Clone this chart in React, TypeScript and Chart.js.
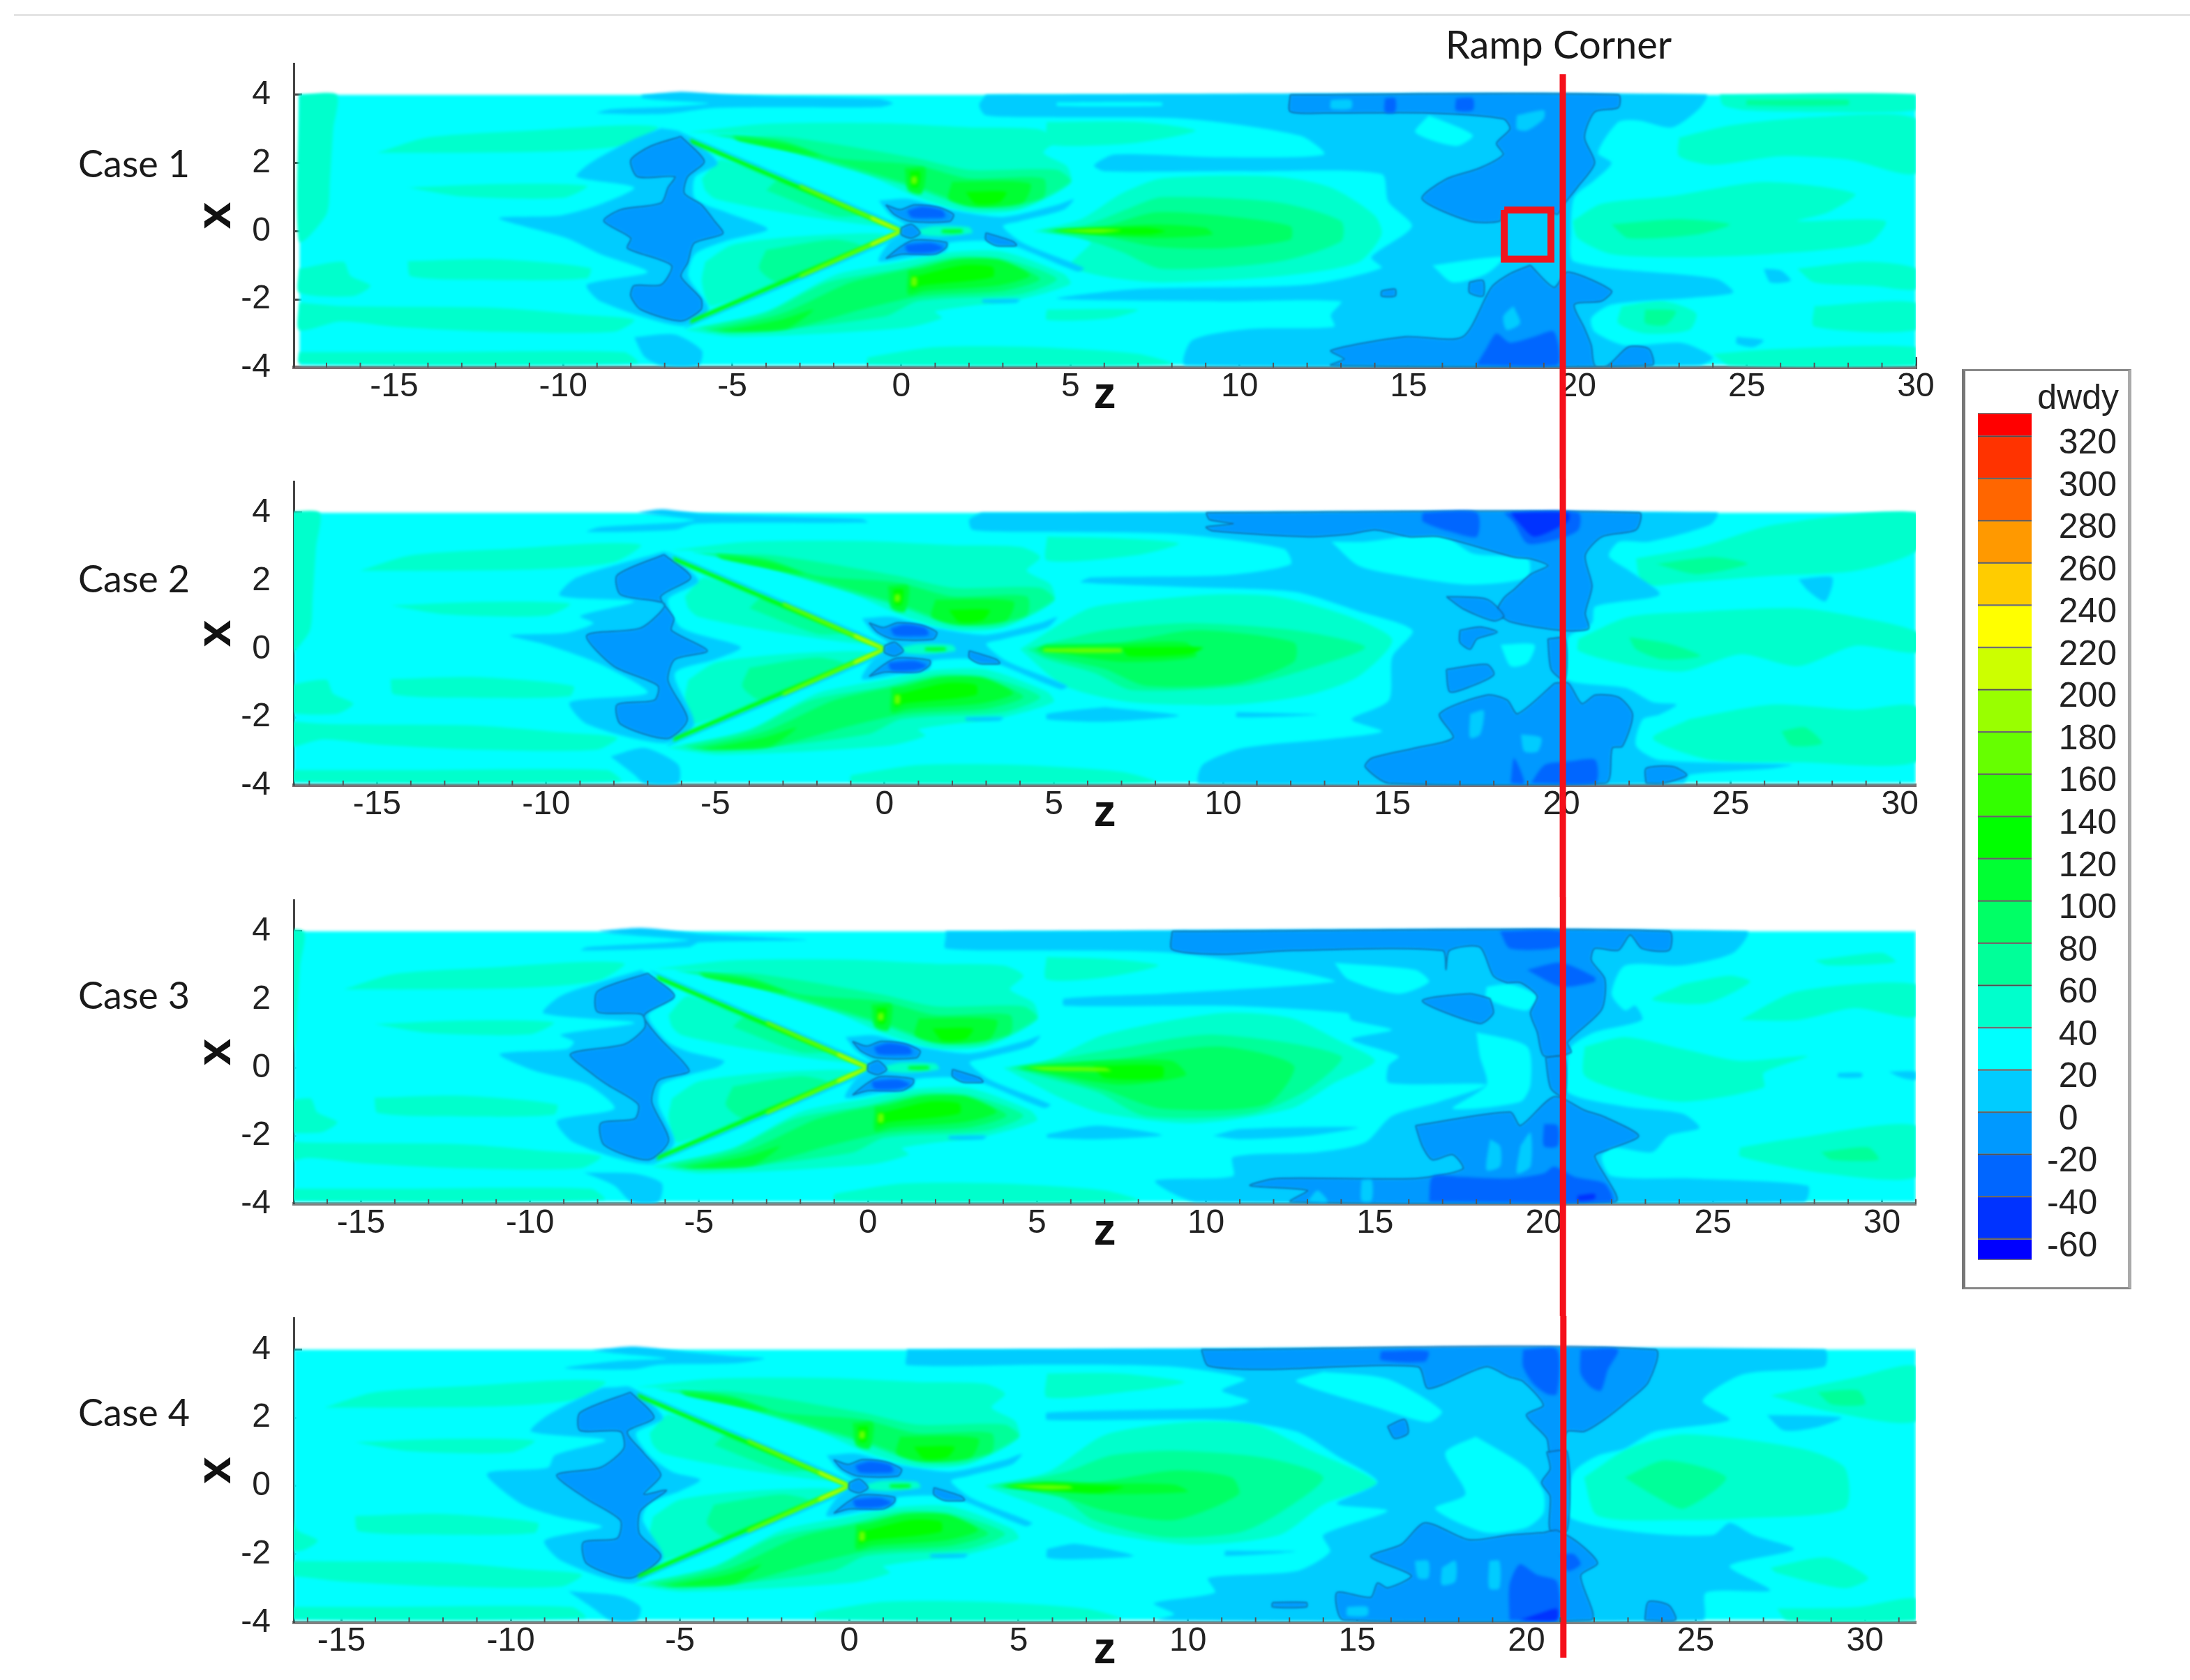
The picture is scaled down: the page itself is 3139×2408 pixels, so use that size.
import React, { useEffect, useRef } from 'react';
import { Chart, registerables } from 'chart.js';

Chart.register(...registerables);

// colour legend
const bandEdges = [-70, -60, -40, -20, 0, 20, 40, 60, 80, 100, 120, 140, 160, 180, 200, 220, 240, 260, 280, 300, 320, 331];
const bandColors = ['#0000ff', '#0033ff', '#0066ff', '#0099ff', '#00ccff', '#00ffff', '#00ffcc', '#00ff99', '#00ff66', '#00ff33', '#00ff00', '#33ff00', '#66ff00', '#99ff00', '#ccff00', '#ffff00', '#ffcc00', '#ff9900', '#ff6600', '#ff3300', '#ff0000'];
const legendTicks = [-60, -40, -20, 0, 20, 40, 60, 80, 100, 120, 140, 160, 180, 200, 220, 240, 260, 280, 300, 320];

const caseNames = ['Case 1', 'Case 2', 'Case 3', 'Case 4'];
const zMin = [-17.97, -17.46, -16.99, -16.41];
const zMax = [30, 30.47, 31, 31.5];
const fieldLeft = [-17.8, -17.46, -16.99, -16.41];
const rampZ = [19.56, 20.04, 20.56, 21.09];
const rampTop = [4.61, 5.01, 5.01, 5.01];
const rampBottom = [-7.3, -7.3, -7.3, -5.04];
const zTicks = [-15, -10, -5, 0, 5, 10, 15, 20, 25, 30];
const xTicks = [-4, -2, 0, 2, 4];
const probeBox = [17.83, 0.62, 19.21, 0.62, 19.21, -0.82, 17.83, -0.82, 17.83, 0.62];

// every row: lower band edge, then z,x pairs of a contour
type Row = number[];

const leftBands: Row[] = [
  [40, -17.8, 4, -16.7, 4, -16.8, 3, -16.9, 1.5, -17, 0.5, -17.8, -0.3],
  [40, -15.5, 2.3, -14, 2.75, -11, 2.95, -8.5, 3.1, -7.2, 3.05, -8, 2.55, -10, 2.35, -13, 2.3],
  [40, -14.6, 1.28, -12, 1.38, -9.3, 1.33, -10, 0.98, -13, 1.02],
  [40, -14.6, -0.88, -12, -0.82, -9.2, -1.08, -9.3, -1.38, -12, -1.43, -14.5, -1.33],
  [40, -17.8, -1.1, -16.5, -0.9, -16.3, -1.3, -15.7, -1.6, -16.2, -1.9, -17.8, -1.8],
  [40, -17.8, -2.1, -16.5, -2.2, -12, -2.25, -9.5, -2.45, -7.9, -2.6, -8.5, -2.95, -12, -2.95, -15, -2.8, -16.6, -2.65, -17.8, -2.9],
  [40, -17.8, -3.55, -14, -3.55, -8.2, -3.55, -7.8, -3.87, -17.8, -3.87],
  [40, -1, -3.7, 1, -3.4, 4, -3.4, 7, -3.6, 8, -3.9, -1, -3.9],
];

const wakeLobes: Row[] = [
  [40, -6.3, 2.9, -4, 3.15, -0.6, 3.17, 2, 3.05, 4, 3, 4.6, 2.7, 4.2, 2.3, 4.9, 1.9, 5, 1.4, 3.5, 0.63, 2, 0.56, 0.38, 1.04, -1.73, 2, -3.83, 2.75, -5.7, 2.89],
  [60, -5.7, 2.85, -3.3, 2.75, 0.38, 2.15, 2, 1.8, 4.6, 1.8, 5, 1.45, 3.5, 0.7, 2, 0.7, 0.4, 1.25, -1.7, 1.86, -3.8, 2.48],
  [80, -5, 2.8, -3.5, 2.65, -2, 2.15, 0.4, 1.95, 2, 1.55, 4.2, 1.55, 4.2, 1, 3, 0.75, 2, 0.78, 0.5, 1.3, -1.7, 1.95, -3.8, 2.5],
  [100, -5, 2.78, -3.4, 2.55, -2.4, 2.2, -3.6, 2.4, -4.8, 2.65],
  [100, 0.1, 1.85, 0.7, 1.85, 0.6, 1.1, 0.2, 1.2],
  [100, 1.5, 1.45, 3.8, 1.4, 3.6, 0.85, 2.2, 0.72, 1.4, 0.95],
  [120, 1.9, 1.15, 3.1, 1.15, 2.9, 0.85, 2.2, 0.8],
  [120, 0.25, 1.75, 0.55, 1.75, 0.5, 1.3, 0.3, 1.3],
  [160, 0.3, 1.6, 0.45, 1.6, 0.45, 1.4, 0.3, 1.4],
  [40, -6.4, -2.9, -4, -2.35, -2, -1.3, 0, -0.9, 1.4, -0.62, 3, -0.6, 4.8, -1.25, 5, -1.55, 3.5, -2, 1, -2.35, 1.2, -2.55, 0, -2.85, -4.9, -3.1],
  [60, -6, -2.85, -4, -2.4, -2.2, -1.5, 0, -1.1, 1.5, -0.75, 3, -0.8, 4.6, -1.4, 3.5, -1.85, 0.5, -2.05, -0.5, -2.5, -4.9, -3],
  [80, -5.8, -2.92, -3.5, -2.4, -1.5, -1.5, 0.3, -1.1, 1.7, -0.8, 3, -0.9, 4.1, -1.4, 3, -1.75, 0.6, -1.9, -1, -2.25, -3.5, -2.9],
  [100, -5.5, -2.95, -3.6, -2.6, -2.6, -2.3, -3.4, -2.85],
  [100, 0.2, -1.15, 0.6, -1.1, 1.6, -0.85, 2.9, -0.85, 3.8, -1.3, 2.8, -1.6, 0.7, -1.75, 0.2, -1.85],
  [120, 0.3, -1.3, 0.5, -1.3, 1.8, -1, 2.7, -1.05, 2.7, -1.35, 0.6, -1.6, 0.3, -1.7],
  [160, 0.3, -1.35, 0.45, -1.35, 0.45, -1.6, 0.3, -1.6],
  [40, -5.9, 1.55, -5.3, 2.1, -1, 0.4, -0.4, 0.15, -1.5, 0.25, -3.5, 0.55, -5.5, 0.95, -5.8, 1.2],
  [40, -5.8, -0.9, -5, -0.4, -3, -0.15, -0.5, -0.08, -1, -0.4, -5.6, -2.2, -5.9, -1.5],
  [60, -4, 1.2, -3.6, 1.5, -1.2, 0.5, -2, 0.45],
  [60, -4, -0.55, -2, -0.25, -1.2, -0.45, -3.6, -1.5, -4.2, -1.1],
];

const wingDetail: Row[] = [
  [0, -6.45, 2.86, 0.02, 0.16, 0.1, 0.06, -6.35, 2.76],
  [0, -6.45, -2.86, 0.02, -0.16, 0.1, -0.06, -6.35, -2.76],
  [120, -6.25, 2.72, -0.05, 0.07, 0, 0, -0.1, 0, -6.2, 2.58],
  [120, -6.25, -2.72, -0.05, -0.07, 0, 0, -0.1, 0, -6.2, -2.58],
  [160, -3, 1.38, -0.05, 0.06, -0.1, 0, -3, 1.28],
  [160, -3, -1.38, -0.05, -0.06, -0.1, 0, -3, -1.28],
  [200, -0.9, 0.44, -0.02, 0.04, -0.06, 0, -0.9, 0.36],
  [200, -0.9, -0.44, -0.02, -0.04, -0.06, 0, -0.9, -0.36],
  [0, -0.67, 0.9, 0.2, 0.95, 1.43, 0.63, 3, 0.42, 4.6, 0.77, 5.1, 0.94, 4.8, 0.63, 3.5, 0.29, 3, 0.15, 3.6, -0.35, 5.4, -1.08, 5.2, -1.18, 3, -0.33, 1.43, -0.33, 1.3, -0.6, 0.38, -0.74, -0.67, -0.88, -0.36, -0.33, 0.17, 0.08, -0.36, 0.5],
  [40, 0.5, 0.05, 1, 0.15, 2, 0.12, 2.1, -0.05, 1.2, -0.15, 0.6, -0.1],
  [100, 1.2, 0.05, 1.8, 0.05, 1.8, -0.05, 1.2, -0.05],
  [-20, -0.46, 0.77, -0.04, 0.63, 0.38, 0.77, 1.1, 0.7, 1.54, 0.49, 1.43, 0.29, 0.27, 0.29, -0.2, 0.49],
  [-40, 0.17, 0.6, 0.6, 0.72, 1.2, 0.62, 1.3, 0.42, 0.9, 0.38, 0.3, 0.4],
  [-20, -0.46, -0.8, -0.04, -0.47, 0.38, -0.26, 1.33, -0.33, 1.33, -0.47, 1, -0.67, 0, -0.67],
  [-40, 0.1, -0.4, 0.9, -0.35, 1.25, -0.5, 0.9, -0.62, 0.2, -0.62],
  [-20, 0, 0.1, 0.3, 0.2, 0.55, -0.05, 0.3, -0.2, 0, -0.1],
  [-20, 2.5, -0.05, 3.3, -0.3, 3.4, -0.42, 2.8, -0.42, 2.5, -0.25],
  [0, 2.4, -2, 3.5, -2, 3.4, -2.1, 2.4, -2.1],
];

const case1Contours: Row[] = [
  [40, 3.9, 0, 5.3, 0.35, 6.5, 1.1, 7.7, 1.55, 11.1, 1.6, 12.7, 1.28, 14, 0.46, 14.2, -0.1, 13.5, -0.92, 11.1, -1.33, 7.7, -1.5, 6, -1.33, 5, -1, 5.6, -0.3],
  [60, 4.1, 0.02, 5.5, 0.2, 6.8, 0.7, 7.7, 1, 11.1, 0.85, 13, 0.3, 13, -0.3, 11.1, -0.9, 7.7, -1.1, 6.5, -0.6, 5.3, -0.2],
  [80, 4.3, 0.02, 6, 0.15, 7.5, 0.55, 9.5, 0.45, 11.5, 0.15, 11.5, -0.25, 9.5, -0.5, 7.5, -0.45, 6, -0.15],
  [100, 4.4, 0.02, 6, 0.12, 7.5, 0.2, 9, 0.1, 9.2, -0.1, 7.5, -0.2, 6, -0.12],
  [120, 4.5, 0.02, 6, 0.08, 7.3, 0.1, 7.8, 0, 7.3, -0.1, 6, -0.08],
  [160, 4.6, 0.02, 5.8, 0.07, 6.5, 0.03, 5.8, -0.05],
  [40, 4.3, 3.2, 7, 3.2, 8.7, 2.95, 7, 2.6, 5, 2.5, 4.3, 2.6],
  [40, 4.3, -2.3, 7, -2.3, 6.2, -2.55, 4.3, -2.6],
  [40, 24.2, 4, 30, 4, 30, 3.55, 27, 3.5, 25, 3.55, 24.3, 3.7],
  [60, 25, 3.85, 28, 3.85, 28, 3.7, 25, 3.7],
  [40, 23, 2.75, 24.5, 3.1, 27, 3.35, 30, 3.3, 30, 1.7, 28, 2.1, 26, 2.2, 24, 1.95, 23, 2.2],
  [40, 19.85, 0.3, 20.7, 0.8, 22.8, 1.03, 25.5, 1.44, 28.2, 1.1, 27.4, 0.55, 26.5, 0.3, 29.1, 0.3, 28.6, -0.35, 25.7, -0.67, 23.1, -0.76, 21, -0.67, 20, -0.2],
  [60, 21, 0.2, 23, 0.35, 24.5, 0.2, 23.5, -0.1, 21.5, -0.2],
  [40, 26.5, -1.1, 28.5, -0.9, 30, -1.1, 30, -1.7, 28.7, -1.6, 27, -1.5],
  [40, 24, -3.6, 26, -3.45, 30, -3.4, 30, -3.93, 24.5, -3.93],
  [40, 21.3, -2.2, 22.5, -2.05, 23.5, -2.4, 23.3, -2.9, 22, -3, 21.2, -2.7],
  [60, 22, -2.3, 22.9, -2.35, 22.6, -2.75, 22, -2.7],
  [40, 27, -2.2, 30, -2.1, 30, -2.9, 27, -2.8],
  [0, 2.5, 4, 23.8, 4, 23.6, 3.6, 22.8, 3.05, 21.8, 3.25, 21.2, 3.2, 20.6, 2.3, 21, 2, 20.5, 1.5, 19.9, 1, 19.8, 0, 19.9, -0.9, 24.1, -1.4, 24.6, -1.8, 23.4, -1.95, 21, -2.15, 20.4, -2.55, 20.5, -2.95, 21.4, -3.35, 23.1, -3.28, 24, -3.7, 23.6, -3.93, 8.4, -3.93, 8.6, -3.2, 10.3, -2.87, 12.8, -2.8, 12.7, -2.46, 13, -2.06, 9.4, -2.06, 4.6, -1.98, 6.9, -1.7, 12, -1.57, 14.2, -1.08, 13.9, -0.76, 15.1, 0.14, 14.4, 0.87, 14.2, 1.68, 10.3, 1.76, 6, 1.76, 5.7, 1.93, 6.3, 2.25, 9.4, 2.17, 12.5, 2.25, 11.8, 2.8, 8.4, 3.3, 4.3, 3.35, 2.5, 3.4, 2.3, 3.7],
  [20, 15.6, 3.4, 16.9, 2.82, 16.4, 2.5, 15.2, 2.9],
  [20, 15.7, -1, 17.8, -0.76, 17.3, -1.25, 16.3, -1.5],
  [20, 4.6, 3.78, 7.7, 3.78, 7.7, 3.68, 4.6, 3.68],
  [0, 25.5, -1.1, 26, -1.15, 26.3, -1.45, 25.7, -1.5],
  [0, 24.7, -3.1, 25.5, -3.2, 25.2, -3.4, 24.7, -3.3],
  [-20, 11.5, 4, 21.2, 4, 21.2, 3.63, 20.5, 3.5, 20.2, 2.75, 20.5, 2, 20, 1.3, 19.6, 0.8, 19.4, 0.5, 19.1, 0.62, 17.8, 0.62, 17.7, 0.3, 16.8, 0.3, 15.4, 0.95, 16.1, 1.52, 17.1, 1.85, 17.8, 2.25, 17.6, 2.58, 18, 3, 17.8, 3.3, 15.6, 3.47, 12.5, 3.47, 11.5, 3.51],
  [0, 18.2, 3.4, 19, 3.55, 19, 3.3, 18.5, 2.95, 18.2, 3],
  [0, 12.7, 3.85, 13.3, 3.85, 13.3, 3.6, 12.7, 3.6],
  [-20, 18.6, -1, 19.3, -1.65, 19.7, -1.2, 21, -1.75, 20.7, -2.05, 19.9, -2.15, 20.2, -2.85, 20.4, -3.35, 20.5, -3.93, 20.9, -3.93, 21.5, -3.4, 22.1, -3.45, 22.2, -3.93, 12.7, -3.93, 13.1, -3.75, 12.7, -3.5, 14.9, -3.1, 16.6, -3.1, 17.45, -1.65, 18, -1.25],
  [0, 18.1, -2.2, 18.3, -2.7, 17.9, -2.9, 17.8, -2.5],
  [-20, 16.8, -1.5, 17.2, -1.45, 17.2, -1.9, 16.8, -1.8],
  [-20, 14.2, -1.75, 14.6, -1.7, 14.6, -1.9, 14.2, -1.9],
  [-40, 17, -3.93, 17.3, -3.44, 17.6, -3, 18, -3.27, 18.7, -3.1, 19.3, -2.95, 19.4, -3.93],
  [-40, 14.3, 3.9, 14.6, 3.9, 14.6, 3.5, 14.3, 3.5],
  [-40, 16.4, 3.9, 16.9, 3.9, 16.9, 3.55, 16.4, 3.55],
  [0, -7.67, 3.99, -7.09, 4.05, -6.46, 4.09, -5.41, 4.02, -3.83, 3.95, -0.67, 3.88, -0.25, 3.75, -0.67, 3.64, -3.83, 3.64, -5.62, 3.61, -7, 3.44, -9, 3.47, -8.57, 3.58, -7, 3.64, -5.7, 3.75, -7.2, 3.85, -7.7, 3.92],
  [0, -7.1, 3.02, -6.5, 2.9, -5.43, 2, -6.1, 1.6, -6.1, 0.95, -5.14, 0.54, -3.95, 0.06, -5.14, -0.27, -6.1, -0.67, -6.3, -1.33, -5.7, -2.3, -6.5, -2.78, -8.9, -2.06, -9.3, -1.57, -7.5, -1.2, -8.9, -0.67, -9.9, -0.2, -11.9, 0.38, -10.1, 0.46, -8.9, 0.79, -7.9, 1.28, -9.6, 1.6, -9.2, 2, -8, 2.66],
  [0, -7.9, -3.11, -6.7, -3.03, -5.9, -3.5, -6, -3.93, -7.1, -3.93, -7.6, -3.68],
  [-20, -6.52, 2.78, -5.83, 2.05, -6.32, 1.6, -6.42, 1.11, -5.93, 0.79, -5.53, 0.3, -5.28, -0.07, -6.13, -0.35, -6.32, -0.92, -6.52, -1.33, -5.93, -1.98, -5.93, -2.3, -6.52, -2.63, -7.7, -2.3, -8, -1.9, -7.9, -1.6, -7.1, -1.57, -6.8, -1, -8.1, -0.5, -8, -0.2, -8.8, 0.3, -8.3, 0.63, -7.1, 0.83, -6.9, 1.28, -6.7, 1.6, -7.8, 1.6, -8, 2.09, -7.4, 2.5],
];

const case2Contours: Row[] = [
  [40, 4, 0, 6, 1.18, 7.3, 1.39, 9.7, 1.6, 11.6, 1.54, 13.7, 0.97, 15, 0.27, 14, -0.8, 12.5, -1.35, 10.3, -1.63, 7.3, -1.56, 5.3, -1.07],
  [60, 4.2, 0, 6.5, 0.55, 9, 0.76, 12.1, 0.55, 14.2, 0.06, 12.5, -0.58, 10.6, -1.07, 7.3, -1.2, 6.2, -0.7, 4.8, -0.3],
  [80, 4.4, 0, 7, 0.2, 9.2, 0.55, 12.1, 0.2, 12.1, -0.37, 10.4, -1, 7.7, -1.07, 6.5, -0.58, 4.8, -0.2],
  [100, 4.5, 0, 4.8, 0.13, 6.8, 0.15, 8.9, 0.2, 9.2, -0.22, 7, -0.37],
  [120, 7, 0.05, 9.4, 0.05, 9, -0.15, 7.2, -0.2],
  [160, 4.7, 0.02, 7, 0.02, 7, -0.1, 4.7, -0.08],
  [40, 4.8, 3.3, 7, 3.25, 8.7, 3.1, 7.4, 2.75, 4.8, 2.6],
  [40, 22.2, 2.66, 24.1, 3, 26.3, 3.65, 30.5, 4, 30.5, 2.9, 28.7, 2.3, 26.2, 2.15, 23.6, 1.95, 22.4, 1.9],
  [60, 22.8, 2.5, 24.5, 2.7, 25.5, 2.5, 24, 2.2],
  [40, 20.5, 0.3, 22, 0.95, 24.1, 1.1, 27, 1.2, 28.7, 0.95, 30.5, 0.5, 30.5, -0.1, 28.7, 0.1, 27, -0.5, 25.3, -0.15, 23.6, -0.65, 21.9, -0.45, 20.5, -0.05],
  [60, 22, 0.35, 23.2, 0.15, 24.1, -0.2, 23, -0.3, 22.2, 0],
  [40, 23.8, -2.05, 26.2, -1.63, 28.7, -1.78, 30.5, -1.7, 30.5, -3.3, 27, -3.32, 24.4, -3.25, 22.7, -2.62],
  [60, 26.5, -2.41, 27.2, -2.3, 27.7, -2.76, 26.8, -2.83],
  [0, 2.87, 4, 24.6, 4, 24.4, 3.65, 22.6, 3.15, 21.7, 3.15, 21.4, 2.73, 22, 2.3, 22.9, 1.6, 21, 1.25, 20.9, 0.76, 20.2, 0.34, 20.1, -0.86, 21.9, -1.14, 22.7, -1.56, 23.4, -1.63, 22.9, -1.92, 22.4, -2.06, 22.2, -2.83, 22.9, -3.25, 26.8, -3.39, 26.2, -3.5, 23.8, -3.68, 23.6, -3.93, 9.3, -3.93, 9.4, -3.39, 10.6, -2.9, 13.3, -2.62, 14.7, -2.41, 13.8, -2.06, 14.9, -1.5, 15, -0.23, 15.6, 0.55, 14, 1.11, 12.1, 1.68, 9, 1.82, 5.8, 1.96, 6.1, 2.1, 10.1, 2.17, 12, 2.49, 11.8, 2.94, 8.7, 3.37, 4.8, 3.44, 2.6, 3.5, 2.5, 3.8],
  [0, 6.5, -1.7, 8.7, -1.95, 6.5, -2.13, 4.8, -2.06, 4.8, -1.9],
  [0, 10.4, -1.85, 12.8, -1.92, 10.4, -2],
  [0, 27, 2.05, 28, 2.1, 27.8, 1.4, 27.3, 1.7],
  [20, 13.2, 3.15, 14.2, 3.15, 16.4, 3.37, 17.4, 2.8, 19, 2.66, 19, 2.1, 17.3, 1.89, 15.2, 2.17, 14, 2.45],
  [20, 18.2, 0.13, 19.2, 0.13, 19, -0.4, 18.5, -0.5],
  [-20, 9.5, 4, 22.3, 4, 22.2, 3.5, 21.2, 3.3, 20.7, 2.75, 20.9, 1.85, 20.7, 1.05, 20.8, 0.6, 20, 0.55, 18.5, 0.8, 18.1, 1.1, 18.3, 1.5, 18.6, 1.75, 19.1, 2.2, 19.6, 2.45, 19.1, 2.65, 18.6, 2.7, 16.4, 3.3, 15.5, 3.3, 14.5, 3.5, 13.7, 3.37, 12.5, 3.3, 9.7, 3.47, 9.5, 3.58, 10.3, 3.68, 9.6, 3.8],
  [-20, 16.6, 1.54, 17.8, 1.46, 18.3, 0.97, 18, 0.83, 17.1, 1.18],
  [-20, 19.6, 0.3, 20.1, 0.3, 20.1, -0.9, 19.7, -0.6],
  [-20, 19.8, -1, 20.2, -1, 20.6, -1.6, 21, -1.35, 21.7, -1.42, 22.1, -1.92, 21.8, -2.85, 21.5, -2.9, 21.3, -3.93, 14.9, -3.93, 14.2, -3.45, 14.4, -3.2, 15.7, -2.9, 16.8, -2.6, 16.4, -1.9, 17.8, -1.35, 18.4, -1.5, 18.7, -1.9],
  [-20, 16.6, -0.6, 17.8, -0.45, 18, -0.75, 17.3, -1.1, 16.7, -1.25],
  [-20, 17, 0.55, 17.6, 0.65, 18.1, 0.5, 17.5, 0.3, 17.3, 0, 17, 0.2],
  [-20, 22.5, -3.93, 22.5, -3.5, 23.3, -3.45, 23.7, -3.7, 23, -3.93],
  [0, 17.3, -1.9, 17.7, -1.8, 17.6, -2.5, 17.3, -2.6],
  [0, 18.8, -2.5, 19.4, -2.6, 19.3, -3, 18.9, -3],
  [-40, 18.3, 4, 20.5, 4, 20.5, 3.5, 19.8, 3.2, 19, 3.1, 18.6, 3.7],
  [-40, 15.9, 4, 17.5, 4, 17.5, 3.3, 16.7, 3.45, 15.9, 3.75],
  [-60, 18.5, 4, 20.2, 4, 20.2, 3.75, 19.2, 3.3, 18.7, 3.75],
  [-40, 18.5, -3.93, 18.6, -3.2, 18.9, -3.93],
  [-40, 19.1, -3.93, 19.5, -3.4, 20.2, -3.3, 21, -3.25, 21, -3.93],
  [0, -7.3, 4, -6.6, 4.1, -5.4, 3.97, -0.7, 3.82, -0.5, 3.72, -5.6, 3.68, -6.2, 3.5, -8.8, 3.44, -8.4, 3.58, -6, 3.72, -5.6, 3.79],
  [0, -6.5, 2.87, -5.5, 2, -6.4, 1.46, -6, 0.62, -4.25, 0.06, -5, -0.3, -6.2, -0.72, -5.63, -2.2, -6.5, -2.76, -8.8, -2.2, -9.3, -1.56, -7, -1.28, -8.4, -0.44, -10, 0.13, -11.07, 0.4, -9.4, 0.48, -8.6, 0.76, -9, 0.97, -7.4, 1.4, -9.6, 1.57, -9.1, 2.1],
  [0, -8.1, -3.15, -7.1, -2.9, -6.1, -3.39, -6.1, -3.93, -7.1, -3.93, -7.4, -3.68],
  [-20, -6.52, 2.77, -5.73, 2.1, -6.62, 1.54, -6.23, 0.9, -6.3, 0.55, -5.24, -0.05, -6.2, -0.3, -6.4, -0.93, -5.83, -2.06, -6.42, -2.62, -7.8, -2.2, -7.9, -1.63, -6.8, -1.5, -6.7, -1.07, -8, -0.5, -8.8, 0.4, -7.2, 0.62, -6.5, 1.32, -7.8, 1.6, -7.9, 2.17],
];

const case3Contours: Row[] = [
  [40, 4, 0, 5.28, 0.2, 7, 0.97, 10.4, 1.6, 12.5, 1.46, 14, 0.76, 15, 0.2, 13.8, -0.44, 12.5, -1.2, 9.6, -1.63, 7, -1.35, 5.8, -0.93],
  [60, 4.2, 0, 7.3, 0.55, 10.2, 0.97, 14, 0.34, 13, -0.65, 11.3, -1.35, 8.2, -1.42, 6.8, -0.72, 5.3, -0.3],
  [80, 4.4, 0, 7.5, 0.27, 10.4, 0.62, 12.6, 0.06, 11.8, -1.07, 8.7, -1.2, 7, -0.65, 5.3, -0.2],
  [100, 4.5, 0, 5.3, 0.1, 7, 0.2, 9, 0.2, 9.4, -0.22, 7.5, -0.5, 5.3, -0.15],
  [120, 6.65, 0.05, 8.7, 0.05, 8.7, -0.3, 7, -0.3],
  [160, 4.7, 0.02, 5.3, 0.03, 7, 0, 7.2, -0.1, 5.3, -0.08],
  [40, 5.28, 3.25, 7, 3.2, 8.6, 3, 7, 2.65, 5.28, 2.6],
  [40, 21.2, 0.62, 22.4, 0.9, 24.1, 0.55, 25.8, 0.2, 27.8, 0.34, 26.5, -0.15, 26.5, -0.58, 24.1, -1, 22.4, -0.7, 21.2, -0.23],
  [40, 24.1, 2.45, 25.5, 2.7, 26.1, 2.52, 24.8, 1.89, 23.2, 2],
  [40, 25.8, 1.4, 27.5, 2.24, 31, 2.45, 31, 1.5, 29.2, 1.75, 27.5, 1.4],
  [40, 28, 3.15, 30, 3.37, 30.4, 3.1, 28.4, 3],
  [40, 25.8, -2.34, 27.5, -2.06, 31, -1.7, 31, -3.2, 28.4, -3.11, 25.8, -2.6],
  [60, 28.2, -2.48, 29.6, -2.34, 29.9, -2.7, 28.5, -2.7],
  [0, 2.3, 4, 26, 4, 25.6, 3.37, 24.1, 3, 22.4, 3, 22, 2.17, 22.4, 1.68, 22.7, 1.82, 22.9, 1.4, 21.5, 1.04, 20.8, 0.62, 20.7, 0.2, 20.7, -0.72, 22.4, -1.14, 24.1, -1.35, 24.6, -1.77, 23.7, -1.99, 23.2, -2.48, 22, -2.34, 21.7, -2.62, 22, -3.18, 24.4, -3.25, 27.8, -3.46, 27.7, -3.93, 9.7, -3.93, 8.5, -3.32, 10.8, -3.18, 10.8, -2.62, 13.3, -2.48, 14.7, -2.2, 15.5, -1.42, 16.9, -1, 18.3, -0.5, 15.4, -0.44, 15.4, 0.06, 15.7, 0.34, 14.3, 0.83, 15.5, 1.11, 14.3, 1.4, 14.2, 1.6, 10.6, 1.82, 5.8, 1.82, 5.8, 2.03, 8.7, 2.17, 13.8, 2.52, 12.8, 2.8, 9, 3.37, 5.3, 3.44, 2.3, 3.5, 2.3, 3.85],
  [0, 5.3, -1.95, 6.8, -1.7, 8.7, -1.98, 6.8, -2.1, 5.3, -2.05],
  [0, 10.2, -2, 11, -1.8, 14.5, -1.75, 13, -2, 11, -2.1],
  [0, 28.7, -0.15, 29.4, -0.15, 29.4, -0.28, 28.7, -0.28],
  [0, 30.2, -0.12, 31, -0.12, 31, -0.35, 30.6, -0.3],
  [20, 13.8, 3.08, 16.2, 2.87, 16.6, 2.52, 15.7, 2.17, 14.2, 2.6],
  [20, 18.3, 2.38, 19, 2.45, 19.8, 2.1, 19.5, 1.68, 18.3, 2.03],
  [20, 18, 1.04, 19.5, 0.62, 19.6, -0.5, 19.3, -1, 17.3, -1.2, 18.3, -0.5, 18.1, 0.34],
  [-20, 9, 4, 23.7, 4, 23.7, 3.45, 22.9, 3.5, 22.55, 3.9, 22.2, 3.45, 21.5, 3.5, 21.4, 3.15, 21.8, 2.6, 21.7, 1.7, 20.7, 0.75, 20.8, 0.45, 20, 0.35, 19.8, 1.05, 19.6, 1.6, 19.8, 2.1, 19.3, 2.5, 18.9, 2.5, 18.5, 2.7, 18.1, 3.54, 17.2, 3.44, 17.1, 2.87, 17, 3.44, 12.6, 3.44, 10.4, 3.33, 9, 3.47],
  [-20, 18.4, 2.03, 18.5, 1.6, 18.1, 1.3, 16.4, 1.96, 17.8, 2.17],
  [-20, 20.05, 0.3, 20.6, 0.3, 20.6, -0.85, 20.2, -0.6],
  [-20, 16.2, -1.7, 19, -1.3, 19.3, -1.7, 20.3, -0.85, 21.2, -1.25, 21.8, -1.45, 22.8, -2, 21.9, -2.4, 21.5, -2.6, 22.1, -3.93, 12.5, -3.93, 13, -3.6, 11.3, -3.46, 12.1, -3.25, 16.2, -3.25, 17.6, -2.97, 17.3, -2.55, 16.7, -2.7, 16.4, -2.3],
  [0, 13, -3.93, 13.3, -3.6, 13.6, -3.93],
  [0, 14.6, -3.3, 14.9, -3.3, 14.9, -3.9, 14.6, -3.9],
  [0, 18.4, -2.1, 18.7, -2.3, 18.7, -2.9, 18.3, -3],
  [0, 19.3, -2.3, 19.6, -1.9, 19.6, -2.9, 19.2, -3.1],
  [-40, 19.5, 2.87, 20.5, 3.08, 21.5, 2.66, 21.5, 2.52, 20.5, 2.38],
  [-40, 18.7, 4, 20.5, 4, 20.5, 3.55, 19, 3.5],
  [-40, 16.6, -3.93, 16.7, -3.2, 17.5, -3.2, 19, -3.25, 20, -3.1, 20.3, -2.9, 20.9, -3.2, 21.8, -3.4, 22, -3.93],
  [-40, 20, -1.65, 20.4, -1.7, 20.4, -2.3, 20, -2.3],
  [-60, 21, -3.75, 21.5, -3.7, 21.5, -3.85, 21, -3.9],
  [0, -8, 4, -6.7, 4.1, -5, 3.93, -1.8, 3.75, -5, 3.68, -5.3, 3.54, -8.5, 3.44, -8.3, 3.54, -5.9, 3.68, -5.3, 3.75, -7.5, 3.93],
  [0, -6.7, 2.87, -5.73, 2.1, -6.5, 1.54, -5.93, 0.76, -5.34, 0.48, -4.25, 0.2, -4.45, 0.02, -5.34, -0.22, -6.1, -0.5, -6.2, -1.07, -5.73, -2.2, -6.5, -2.83, -8.7, -2.2, -9.2, -1.56, -7.5, -1.2, -8.3, -0.5, -9.9, -0.08, -10.9, 0.4, -8.9, 0.55, -8.7, 0.76, -9.1, 0.97, -6.9, 1.32, -9.6, 1.6, -9.1, 2.1, -7.9, 2.52],
  [0, -8.4, -3.08, -6.9, -3.11, -6.1, -3.39, -6.2, -3.93, -7, -3.93, -7.5, -3.46],
  [-20, -6.52, 2.77, -5.73, 2.1, -6.62, 1.54, -6.2, 0.9, -5.5, 0.2, -5.3, -0.12, -6.2, -0.37, -6.4, -1, -5.9, -2.13, -6.5, -2.7, -7.8, -2.27, -7.9, -1.63, -6.9, -1.5, -6.8, -1.07, -7.7, -0.5, -8.1, -0.22, -8.8, 0.4, -7.2, 0.69, -6.6, 1.18, -6.7, 1.57, -8, 1.64, -8, 2.24],
];

const case4Contours: Row[] = [
  [40, 4, 0, 5.84, 0.4, 7.55, 1.5, 10, 1.87, 12, 1.8, 13.5, 1.1, 15.6, 0.08, 14.05, -0.52, 12.7, -1.44, 10.1, -1.72, 7.55, -1.37, 6.35, -0.87],
  [60, 4.2, 0, 6.35, 0.4, 7.7, 0.89, 9.6, 1.03, 12.3, 0.82, 14, 0.25, 12.7, -0.8, 11.5, -1.37, 9.3, -1.5, 7.2, -1, 6.2, -0.3],
  [80, 4.4, 0, 5.84, 0.15, 7.2, 0.1, 9.6, 0.45, 11.3, 0.25, 11.5, -0.25, 9.6, -1, 7.55, -0.73, 6.2, -0.3],
  [100, 4.5, 0, 5.84, 0.1, 7.2, 0.08, 9.6, 0.04, 10, -0.17, 7.55, -0.24, 5.84, -0.15],
  [120, 4.6, 0, 5.84, 0.08, 6.85, 0.04, 8.1, -0.03, 7.4, -0.2, 5.84, -0.12],
  [160, 4.7, 0.02, 5.84, 0.03, 6.5, 0, 6.6, -0.07, 5.84, -0.1],
  [40, 5.84, 3.3, 8, 3.3, 9.9, 3.05, 8.5, 2.8, 5.84, 2.6],
  [40, 21.7, 0.25, 23, 1.1, 24.65, 1.52, 28.1, 1.1, 29.4, 0.54, 29.4, -0.66, 26.4, -0.95, 24.65, -1, 22.1, -0.87],
  [60, 22.9, 0.25, 24.1, 0.75, 25.9, 0.25, 24.65, -0.66, 23.8, -0.3],
  [40, 27.2, 2.65, 29.8, 3.2, 31.5, 3.5, 31.5, 1.9, 28.9, 2.2],
  [60, 28.6, 2.75, 29.8, 2.8, 30, 2.4, 29, 2.4],
  [40, 27.2, -2.4, 28.9, -2.1, 30.1, -2.7, 29.4, -3, 27.4, -2.55],
  [40, 27.4, -3.6, 29.8, -3.55, 31.5, -3.3, 31.5, -3.93, 27.7, -3.93],
  [0, 1.7, 4, 28.8, 4, 28.8, 3.5, 26.4, 3.28, 25.2, 2.5, 26, 1.94, 23.8, 1.6, 22.9, 1.1, 22.1, 0.89, 21.4, 0.4, 21.2, -0.87, 23.4, -1.37, 25.5, -1.44, 26, -1.08, 26.7, -1.44, 27.9, -1.86, 26, -2.35, 27.2, -3.06, 25.3, -3.13, 25.2, -3.93, 9.1, -3.93, 9.6, -3.76, 9, -3.44, 10.8, -3.13, 10.6, -2.7, 13.2, -2.5, 14.2, -1.93, 14, -1.44, 15.9, -0.73, 14.4, -0.52, 15.6, 0.11, 14.4, 0.89, 13.2, 1.6, 11, 1.94, 5.84, 1.94, 5.84, 2.15, 11.1, 2.3, 11.8, 2.5, 11, 2.8, 11.7, 3.14, 9.6, 3.5, 5.84, 3.56, 1.7, 3.55, 1.7, 3.9],
  [0, 5.84, -1.85, 6.7, -1.7, 8.4, -2.05, 6.7, -2.15, 5.84, -2.1],
  [0, 11.1, -1.9, 13.2, -1.92, 11.1, -2.05],
  [0, 27.1, 2.08, 29.3, 2.01, 28.6, 1.73, 27.6, 1.63],
  [20, 14, 3.35, 15.9, 3.14, 17.5, 2.2, 17.1, 1.87, 15.6, 2.3, 13.2, 3.07],
  [20, 18.5, 1.45, 20, 0.54, 20.5, -0.17, 20.5, -0.8, 20, -1.22, 18.8, -1.37, 17.3, -0.66, 18.2, -0.24, 17.6, 0.96],
  [-20, 10.4, 4, 23.8, 4, 23.6, 3.05, 23, 2.5, 22.3, 1.95, 21.7, 1.6, 21.2, 1.6, 21, 0.9, 20.7, 0.95, 20.6, 1.4, 20, 2.08, 20.5, 2.37, 19.9, 3.07, 19.5, 3.2, 18.8, 3.5, 17.1, 2.86, 16.8, 3.5, 12.2, 3.42, 10.6, 3.53],
  [-20, 20.6, 1, 21.2, 1, 21.2, -1.3, 20.7, -1.3, 20.7, -0.3, 20.45, 0.1, 20.7, 0.5],
  [-20, 20.5, -1.37, 19.5, -1.44, 18.3, -1.58, 17, -1.08, 16.3, -1.72, 15.4, -2.07, 16.6, -2.63, 15.9, -2.99, 15.6, -2.85, 15.4, -3.27, 14.4, -3.13, 14.6, -3.93, 21.9, -3.93, 21.6, -2.63, 22.1, -2.27, 21.6, -1.72, 20.9, -1.3],
  [0, 16.7, -2.2, 17.1, -2.2, 17.1, -2.7, 16.8, -2.7],
  [0, 17.5, -2.4, 17.9, -2.2, 17.9, -2.8, 17.5, -2.9],
  [0, 18.9, -2.2, 19.2, -2.2, 19.2, -3, 18.9, -3],
  [0, 14.7, -3.55, 15.3, -3.55, 15.3, -3.8, 14.7, -3.8],
  [-20, 15.9, 1.75, 16.4, 1.95, 16.5, 1.55, 16.1, 1.4],
  [-20, 23.5, -3.93, 23.6, -3.4, 24.2, -3.5, 24.4, -3.93],
  [-20, 12.5, -3.42, 13.5, -3.42, 13.5, -3.55, 12.5, -3.55],
  [-40, 15.7, 3.95, 17.1, 3.95, 17, 3.65, 15.7, 3.7],
  [-40, 19.9, 4, 20.9, 4, 20.9, 2.7, 20.6, 2.7, 20.2, 3, 19.9, 3.5],
  [-40, 21.6, 4, 22.7, 4, 22.4, 3.4, 22.2, 2.8, 21.9, 2.9, 21.6, 3.3],
  [-40, 19.5, -3.93, 19.5, -2.9, 19.8, -2.3, 20.3, -2.6, 20.9, -2.8, 20.9, -3.93],
  [-40, 21, -2, 21.4, -2, 21.6, -2.3, 21.2, -2.5],
  [-60, 19.8, -3.93, 20.5, -3.7, 20.9, -3.6, 20.9, -3.93],
  [0, -7.6, 3.97, -6.4, 4.09, -5, 3.95, -3.4, 3.81, -2.5, 3.74, -3.4, 3.6, -5.6, 3.56, -6.4, 3.42, -8.4, 3.46, -6.8, 3.67, -5.4, 3.74, -6.8, 3.88],
  [0, -6.9, 2.9, -6.46, 2.9, -5.5, 2, -6.3, 1.55, -5.9, 0.9, -5.2, 0.4, -4.4, 0.18, -5, -0.15, -5.9, -0.5, -6.1, -1, -5.5, -2.1, -6.46, -2.85, -8.5, -2.2, -9, -1.6, -7.3, -1.2, -8.6, -0.9, -9.7, -0.52, -10.7, 0.36, -8.9, 0.54, -8.7, 0.9, -7.2, 1.35, -9.4, 1.6, -8.9, 2.08, -7.35, 2.86],
  [0, -8.3, -3.09, -6.76, -3.23, -6.17, -3.55, -6.27, -3.93, -7.05, -3.93, -7.55, -3.6],
  [-20, -6.46, 2.75, -5.77, 2.01, -6.56, 1.59, -6.07, 0.96, -5.57, 0.32, -6.07, -0.24, -5.4, -0.13, -6.17, -0.73, -6.2, -1.4, -5.57, -2.07, -6.46, -2.7, -7.75, -2.28, -7.85, -1.65, -6.86, -1.54, -6.76, -1.01, -7.75, -0.38, -8.64, 0.32, -7.35, 0.54, -6.66, 1.1, -6.76, 1.6, -7.95, 1.63, -7.95, 2.15],
];

const caseContours = [case1Contours, case2Contours, case3Contours, case4Contours];

// page layout of the panels
const canvasTop = [80, 686, 1286, 1886];
const canvasBottom = [686, 1286, 1886, 2400];
const fourPixel = [136, 735, 1335, 1934.5];
const plotLeft = 421;
const plotRight = 2746;
const canvasWidth = 2900;
const unitHeight = 48.85;

const bandColor = (level: number) => bandColors[bandEdges.indexOf(level)];
const toPoints = (flat: number[]) => {
  const pts: { x: number; y: number }[] = [];
  for (let i = 0; i + 1 < flat.length; i += 2) pts.push({ x: flat[i], y: flat[i + 1] });
  return pts;
};

const contourDataset = (row: Row, order: number, tension = 0.25) => {
  const pts = toPoints(row.slice(1));
  pts.push(pts[0]);
  const outlined = row[0] === -20;
  return {
    type: 'scatter' as const,
    label: 'dwdy ' + row[0],
    data: pts,
    showLine: true,
    fill: 'shape',
    tension,
    pointRadius: 0,
    backgroundColor: bandColor(row[0]),
    borderColor: outlined ? 'rgba(20,80,130,0.55)' : 'rgba(0,0,0,0)',
    borderWidth: outlined ? 2 : 0,
    order,
  };
};

// fills get a soft edge like the resampled original, red marks stay sharp
const softEdges = {
  id: 'softEdges',
  beforeDatasetsDraw(chart: any) {
    chart.ctx.filter = 'blur(2px)';
  },
  beforeDatasetDraw(chart: any, args: any) {
    chart.ctx.filter = chart.data.datasets[args.index].crisp ? 'none' : 'blur(1px)';
  },
  afterDatasetDraw(chart: any) {
    chart.ctx.filter = 'blur(2px)';
  },
  afterDatasetsDraw(chart: any) {
    chart.ctx.filter = 'none';
  },
};

const minorTicks = {
  id: 'minorTicks',
  afterDraw(chart: any) {
    const { ctx, scales } = chart;
    const sx = scales.x;
    ctx.save();
    ctx.strokeStyle = '#555';
    ctx.lineWidth = 2;
    for (let v = Math.ceil(sx.min); v <= sx.max; v++) {
      if (v % 5 === 0) continue;
      const px = sx.getPixelForValue(v);
      ctx.beginPath();
      ctx.moveTo(px, chart.chartArea.bottom);
      ctx.lineTo(px, chart.chartArea.bottom - 7);
      ctx.stroke();
    }
    ctx.restore();
  },
};

const Panel: React.FC<{ index: number }> = ({ index }) => {
  const ref = useRef<HTMLCanvasElement>(null);
  const top = canvasTop[index];
  const bottom = canvasBottom[index];

  useEffect(() => {
    if (!ref.current) return;
    const plotTop = fourPixel[index] - 0.92 * unitHeight;
    const plotBottom = fourPixel[index] + 8 * unitHeight;
    const rows = [
      [20, fieldLeft[index], 4, zMax[index], 4, zMax[index], -3.93, fieldLeft[index], -3.93],
      ...leftBands,
      ...wakeLobes,
      ...caseContours[index],
      ...wingDetail,
    ];
    const total = rows.length + 2;
    const datasets: any[] = rows.map((row, i) => contourDataset(row, total - i, i === 0 ? 0 : 0.25));
    if (index === 0) {
      datasets.push({
        type: 'scatter', label: 'probe', data: toPoints(probeBox), showLine: true, pointRadius: 0,
        borderColor: '#f0141e', borderWidth: 10, fill: false, order: 1, crisp: true,
      });
    }
    datasets.push({
      type: 'scatter', label: 'Ramp Corner', showLine: true, pointRadius: 0,
      data: [{ x: rampZ[index], y: rampTop[index] }, { x: rampZ[index], y: rampBottom[index] }],
      borderColor: '#f5101a', borderWidth: 9, fill: false, clip: false, order: 0, crisp: true,
    });

    const bottomSpace = bottom - plotBottom;
    const chart = new Chart(ref.current, {
      type: 'scatter',
      data: { datasets },
      plugins: [softEdges, minorTicks],
      options: {
        animation: false,
        responsive: false,
        devicePixelRatio: 1,
        layout: { padding: { top: plotTop - top, right: canvasWidth - plotRight, bottom: 0, left: 0 } },
        plugins: { legend: { display: false }, tooltip: { enabled: false } },
        scales: {
          x: {
            type: 'linear',
            min: zMin[index],
            max: zMax[index],
            afterBuildTicks: (s: any) => {
              s.ticks = zTicks.filter((v) => v >= zMin[index] && v <= zMax[index]).map((value) => ({ value }));
            },
            afterFit: (s: any) => {
              s.height = bottomSpace;
              s.paddingLeft = 0;
              s.paddingRight = 0;
            },
            grid: { drawOnChartArea: false, tickLength: -15, tickColor: '#444', tickWidth: 3 },
            border: { color: index < 2 ? '#7d6f72' : '#808080', width: 5 },
            ticks: {
              autoSkip: false, minRotation: 0, maxRotation: 0, padding: 14, color: '#222',
              font: { family: 'Liberation Sans', size: 48 },
              callback: (v: any) => String(v),
            },
            title: {
              display: true, text: 'z', color: '#111',
              font: { family: 'Liberation Sans', size: 64, weight: 'bold' },
              padding: { top: 0, bottom: bottomSpace - 38 - 41 },
            },
          },
          y: {
            type: 'linear',
            min: -4,
            max: 4.92,
            afterBuildTicks: (s: any) => {
              s.ticks = xTicks.map((value) => ({ value }));
            },
            afterFit: (s: any) => {
              s.width = plotLeft;
              s.paddingTop = 0;
              s.paddingBottom = 0;
            },
            grid: { drawOnChartArea: false, tickLength: -12, tickColor: '#444', tickWidth: 3 },
            border: { color: '#444', width: 3 },
            ticks: {
              autoSkip: false, padding: 45, color: '#222',
              font: { family: 'Liberation Sans', size: 48 },
              callback: (v: any) => String(v),
            },
            title: {
              display: true, text: 'x', color: '#111',
              font: { family: 'Liberation Sans', size: 70, weight: 'bold' },
              padding: { top: 269, bottom: 0 },
            },
          },
        },
      } as any,
    });
    return () => chart.destroy();
  }, [index, top, bottom]);

  return (
    <canvas
      ref={ref}
      width={canvasWidth}
      height={bottom - top}
      style={{ position: 'absolute', left: 0, top, width: canvasWidth, height: bottom - top }}
    />
  );
};

const ColorBar: React.FC = () => {
  const ref = useRef<HTMLCanvasElement>(null);

  useEffect(() => {
    if (!ref.current) return;
    const chart = new Chart(ref.current, {
      type: 'bar',
      data: {
        labels: ['dwdy'],
        datasets: bandColors.map((color, i) => ({
          label: String(bandEdges[i]),
          data: [[bandEdges[i], bandEdges[i + 1]]],
          backgroundColor: color,
          borderColor: 'rgba(0,0,0,0.55)',
          borderWidth: { top: 1.5, bottom: 1.5, left: 0, right: 0 },
          borderSkipped: false,
          barPercentage: 1,
          categoryPercentage: 1,
          grouped: false,
        })),
      },
      options: {
        animation: false,
        responsive: false,
        devicePixelRatio: 1,
        layout: { padding: { top: 32, bottom: 10, left: 0, right: 0 } },
        plugins: { legend: { display: false }, tooltip: { enabled: false } },
        scales: {
          x: { display: false },
          y: {
            position: 'right',
            min: -70,
            max: 331,
            afterBuildTicks: (s: any) => {
              s.ticks = legendTicks.map((value) => ({ value }));
            },
            afterFit: (s: any) => {
              s.width = 170;
              s.paddingTop = 0;
              s.paddingBottom = 0;
            },
            grid: { display: false, drawTicks: false },
            border: { display: false },
            ticks: {
              autoSkip: false, padding: 22, color: '#222', labelOffset: 11,
              font: { family: 'Liberation Sans', size: 50 },
              callback: (v: any) => (v < 0 ? String(v) : '\u2004' + v),
            },
          },
        },
      } as any,
    });
    return () => chart.destroy();
  }, []);

  return (
    <canvas
      ref={ref}
      width={247}
      height={1256}
      style={{ position: 'absolute', left: 2835, top: 560, width: 247, height: 1256 }}
    />
  );
};

const caseLabelY = [234, 829, 1426, 2024];

export default function App() {
  return (
    <div style={{ position: 'absolute', left: 0, top: 0, width: 3139, height: 2408, background: '#fff', overflow: 'hidden' }}>
      <div style={{ position: 'absolute', left: 20, top: 20, width: 3119, height: 3, background: '#e4e4e4' }} />
      {caseNames.map((name, i) => (
        <div
          key={name}
          style={{
            position: 'absolute', left: 112, top: caseLabelY[i] - 35, height: 70, lineHeight: '70px',
            fontFamily: 'Lato', fontSize: 54, color: '#1a1a1a', whiteSpace: 'nowrap',
          }}
        >
          {name}
        </div>
      ))}
      <div
        style={{
          position: 'absolute', left: 2034, top: 28, width: 400, height: 70, lineHeight: '70px', textAlign: 'center',
          fontFamily: 'Lato', fontSize: 56, color: '#1a1a1a', whiteSpace: 'nowrap',
        }}
      >
        Ramp Corner
      </div>
      <div
        style={{
          position: 'absolute', left: 2812, top: 529, width: 243, height: 1319, boxSizing: 'border-box',
          borderTop: '3px solid #888', borderBottom: '3px solid #888', borderLeft: '5px solid #777', borderRight: '5px solid #aaa',
        }}
      />
      {caseNames.map((name, i) => (
        <Panel key={name} index={i} />
      ))}
      <ColorBar />
      <div
        style={{
          position: 'absolute', left: 2880, top: 542, width: 157, height: 54, lineHeight: '54px', textAlign: 'right',
          fontFamily: 'Liberation Sans', fontSize: 50, color: '#222',
        }}
      >
        dwdy
      </div>
    </div>
  );
}
